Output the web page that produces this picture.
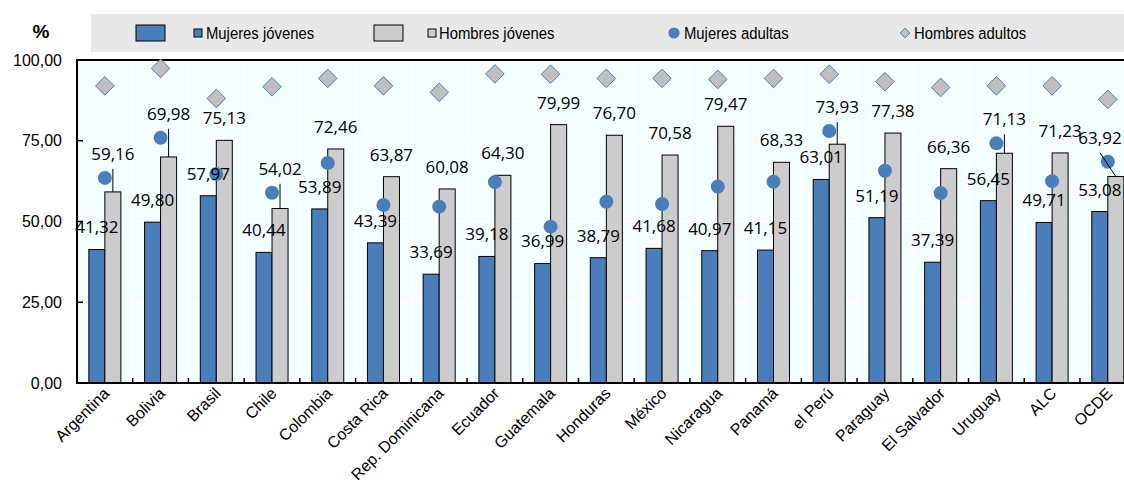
<!DOCTYPE html>
<html>
<head>
<meta charset="utf-8">
<script src="https://cdn.jsdelivr.net/npm/d3@7"></script>
<style>
	body { margin: 0; background: #fff; }
	svg { display: block; }
	.axis-text { font-family: "Liberation Sans", Arial, sans-serif; font-size: 16px; fill: #000; }
	.x-text { font-family: "Liberation Sans", Arial, sans-serif; font-size: 16px; fill: #000; }
	.legend-text { font-family: "Liberation Sans", Arial, sans-serif; font-size: 16.5px; fill: #000; }
	.value-label { font-family: "Open Sans", "Noto Sans", sans-serif; font-size: 17px; fill: #000; }
</style>
</head>
<body>
<div id="chart"></div>
<script>
// ---------- DATA ----------
const categories = [
	"Argentina", "Bolivia", "Brasil", "Chile", "Colombia", "Costa Rica",
	"Rep. Dominicana", "Ecuador", "Guatemala", "Honduras", "México",
	"Nicaragua", "Panamá", "el Perú", "Paraguay", "El Salvador", "Uruguay",
	"ALC", "OCDE",
];
const mujeresJovenes = [
	41.32, 49.8, 57.97, 40.44, 53.89, 43.39, 33.69, 39.18, 36.99, 38.79,
	41.68, 40.97, 41.15, 63.01, 51.19, 37.39, 56.45, 49.71, 53.08,
];
const hombresJovenes = [
	59.16, 69.98, 75.13, 54.02, 72.46, 63.87, 60.08, 64.3, 79.99, 76.7,
	70.58, 79.47, 68.33, 73.93, 77.38, 66.36, 71.13, 71.23, 63.92,
];
const mujeresAdultas = [
	63.5, 75.9, 64.7, 58.9, 68.1, 55.1, 54.6, 62.2, 48.4, 56.1,
	55.4, 60.8, 62.3, 78.0, 65.7, 58.8, 74.2, 62.5, 68.5,
];
const hombresAdultos = [
	92.0, 97.4, 88.1, 91.7, 94.3, 92.0, 90.0, 95.7, 95.6, 94.3,
	94.3, 94.0, 94.3, 95.6, 93.3, 91.5, 92.0, 92.0, 87.8,
];
const yTicks = [0, 25, 50, 75, 100];
const seriesNames = ["Mujeres jóvenes", "Hombres jóvenes", "Mujeres adultas", "Hombres adultos"];

const colorDef = {
	blue: "#4a7ebb",
	gray: "#cccccc",
	diamond: "#bfbfbf",
	plotBg: "#f3ffff",
	legendBg: "#e8e8e8",
};

const size = { w: 1124, h: 489 };
const margin = { top: 60, left: 77, bottom: 106 };
const plotW = 19 * 55.72;

const rows = categories.map((c, i) => ({
	cat: c,
	mj: mujeresJovenes[i],
	hj: hombresJovenes[i],
	ma: mujeresAdultas[i],
	ha: hombresAdultos[i],
}));

const fmt = d3.formatLocale({ decimal: ",", thousands: ".", grouping: [3], currency: ["", ""] }).format(".2f");

const svg = d3
	.select("#chart")
	.append("svg")
	.attr("width", size.w)
	.attr("height", size.h);

const xScale = d3
	.scaleBand()
	.domain(categories)
	.range([margin.left, margin.left + plotW]);
const x1 = d3
	.scaleBand()
	.domain(["mj", "hj"])
	.range([0, xScale.bandwidth()])
	.paddingOuter(0.74);
const yScale = d3
	.scaleLinear()
	.domain([0, 100])
	.range([size.h - margin.bottom, margin.top]);

// ---------- LEGEND ----------
const legend = svg.append("g").classed("legend", true);
legend
	.append("rect")
	.attr("x", 91)
	.attr("y", 14)
	.attr("width", size.w - 91)
	.attr("height", 38)
	.attr("fill", colorDef.legendBg);

const legY = 33;
function legendText(x, t) {
	legend.append("text")
		.classed("legend-text", true)
		.attr("transform", `translate(${x}, ${legY}) scale(0.9, 1)`)
		.attr("dy", "0.35em")
		.text(t);
}
[[136, colorDef.blue, 194, 206, seriesNames[0]], [374, colorDef.gray, 428, 439, seriesNames[1]]].forEach((d) => {
	legend.append("rect")
		.attr("x", d[0]).attr("y", legY - 8).attr("width", 29).attr("height", 16)
		.attr("fill", d[1]).attr("stroke", "#000").attr("stroke-width", 1);
	legend.append("rect")
		.attr("x", d[2]).attr("y", legY - 4).attr("width", 8).attr("height", 8)
		.attr("fill", d[1]).attr("stroke", "#000").attr("stroke-width", 1);
	legendText(d[3], d[4]);
});
legend.append("circle")
	.attr("cx", 674).attr("cy", legY).attr("r", 5.6)
	.attr("fill", colorDef.blue);
legendText(684, seriesNames[2]);
legend.append("path")
	.attr("d", d3.symbol().type(d3.symbolDiamond2).size(60))
	.attr("transform", `translate(905, ${legY})`)
	.attr("fill", colorDef.diamond)
	.attr("stroke", colorDef.blue)
	.attr("stroke-width", 1);
legendText(914, seriesNames[3]);

// ---------- PLOT AREA ----------
const plot = svg.append("g").classed("plot", true);
plot
	.append("rect")
	.attr("x", margin.left)
	.attr("y", margin.top)
	.attr("width", plotW)
	.attr("height", yScale(0) - yScale(100))
	.attr("fill", colorDef.plotBg);

// gridlines
plot
	.append("g")
	.selectAll("line")
	.data(yTicks.slice(1, -1))
	.join("line")
	.attr("x1", margin.left)
	.attr("x2", margin.left + plotW)
	.attr("y1", (d) => yScale(d))
	.attr("y2", (d) => yScale(d))
	.attr("stroke", "#fff")
	.attr("stroke-width", 1.5);
plot
	.append("g")
	.selectAll("line")
	.data(categories.slice(1))
	.join("line")
	.attr("x1", (d) => xScale(d))
	.attr("x2", (d) => xScale(d))
	.attr("y1", yScale(100))
	.attr("y2", yScale(0))
	.attr("stroke", "#fff")
	.attr("stroke-width", 1.5);

// bars
const barG = plot.append("g").classed("bars", true);
barG
	.selectAll("rect.mj")
	.data(rows)
	.join("rect")
	.classed("mj", true)
	.attr("x", (d) => xScale(d.cat) + x1("mj"))
	.attr("y", (d) => yScale(d.mj))
	.attr("width", x1.bandwidth())
	.attr("height", (d) => yScale(0) - yScale(d.mj))
	.attr("fill", colorDef.blue)
	.attr("stroke", "#000")
	.attr("stroke-width", 1);
barG
	.selectAll("rect.hj")
	.data(rows)
	.join("rect")
	.classed("hj", true)
	.attr("x", (d) => xScale(d.cat) + x1("hj"))
	.attr("y", (d) => yScale(d.hj))
	.attr("width", x1.bandwidth())
	.attr("height", (d) => yScale(0) - yScale(d.hj))
	.attr("fill", colorDef.gray)
	.attr("stroke", "#000")
	.attr("stroke-width", 1);

// axes lines
const axisG = plot.append("g").classed("axes", true);
axisG.append("line")
	.attr("x1", margin.left).attr("x2", margin.left + plotW)
	.attr("y1", yScale(100)).attr("y2", yScale(100))
	.attr("stroke", "#000").attr("stroke-width", 2);
axisG.append("line")
	.attr("x1", margin.left).attr("x2", margin.left + plotW)
	.attr("y1", yScale(0)).attr("y2", yScale(0))
	.attr("stroke", "#000").attr("stroke-width", 2);
axisG.append("line")
	.attr("x1", margin.left).attr("x2", margin.left)
	.attr("y1", yScale(100) - 1).attr("y2", yScale(0) + 1)
	.attr("stroke", "#000").attr("stroke-width", 2);

// y ticks + labels
axisG.append("g")
	.selectAll("line")
	.data(yTicks)
	.join("line")
	.attr("x1", margin.left)
	.attr("x2", margin.left + 6)
	.attr("y1", (d) => yScale(d))
	.attr("y2", (d) => yScale(d))
	.attr("stroke", "#000")
	.attr("stroke-width", 1.5);
axisG.append("g")
	.selectAll("text")
	.data(yTicks)
	.join("text")
	.classed("axis-text", true)
	.attr("x", 62)
	.attr("y", (d) => yScale(d))
	.attr("dy", "0.35em")
	.attr("text-anchor", "end")
	.text((d) => fmt(d));
svg.append("text")
	.attr("x", 41)
	.attr("y", 31)
	.attr("dy", "0.35em")
	.attr("text-anchor", "middle")
	.style("font-family", "Liberation Sans, Arial, sans-serif")
	.style("font-size", "19px")
	.style("font-weight", "bold")
	.text("%");

// x ticks + labels
axisG.append("g")
	.selectAll("line")
	.data(categories.slice(1))
	.join("line")
	.attr("x1", (d) => xScale(d))
	.attr("x2", (d) => xScale(d))
	.attr("y1", yScale(0))
	.attr("y2", yScale(0) - 5)
	.attr("stroke", "#000")
	.attr("stroke-width", 1.5);
axisG.append("g")
	.selectAll("text")
	.data(categories)
	.join("text")
	.classed("x-text", true)
	.attr("text-anchor", "end")
	.attr("transform", (d) => `translate(${xScale(d) + xScale.bandwidth() / 2 + 2}, ${yScale(0) + 8}) rotate(-45)`)
	.attr("dy", "0.3em")
	.text((d) => d);

// markers
const markG = plot.append("g").classed("markers", true);
markG
	.selectAll("path")
	.data(rows)
	.join("path")
	.attr("d", d3.symbol().type(d3.symbolDiamond2).size(220))
	.attr("transform", (d) => `translate(${xScale(d.cat) + xScale.bandwidth() / 2}, ${yScale(d.ha)})`)
	.attr("fill", colorDef.diamond)
	.attr("stroke", colorDef.blue)
	.attr("stroke-width", 1);
markG
	.selectAll("circle")
	.data(rows)
	.join("circle")
	.attr("cx", (d) => xScale(d.cat) + xScale.bandwidth() / 2)
	.attr("cy", (d) => yScale(d.ma))
	.attr("r", 7)
	.attr("fill", colorDef.blue);

// value labels
const labelG = plot.append("g").classed("labels", true);
labelG
	.selectAll("text.mj")
	.data(rows)
	.join("text")
	.classed("value-label", true)
	.attr("x", (d) => xScale(d.cat) + x1("mj") + x1.bandwidth() / 2)
	.attr("y", (d) => yScale(d.mj) - 22)
	.attr("dy", "0.35em")
	.attr("text-anchor", "middle")
	.text((d) => fmt(d.mj));

// grey labels move above the dot when they would collide, with a leader line
rows.forEach((d) => {
	const top = yScale(d.hj);
	const bx = xScale(d.cat) + x1("hj") + x1.bandwidth() / 2;
	d.hjBarX = bx;
	d.hjLabelX = Math.min(bx, size.w - 24);
	d.hjLabelY = Math.min(top - 22, yScale(d.ma) - 24);
	d.hjLeader = d.hjLabelY < top - 24;
});
labelG
	.selectAll("line")
	.data(rows.filter((d) => d.hjLeader))
	.join("line")
	.attr("x1", (d) => d.hjLabelX)
	.attr("x2", (d) => d.hjBarX)
	.attr("y1", (d) => d.hjLabelY + 15)
	.attr("y2", (d) => yScale(d.hj))
	.attr("stroke", "#000")
	.attr("stroke-width", 1);
labelG
	.selectAll("text.hj")
	.data(rows)
	.join("text")
	.classed("value-label hj", true)
	.attr("x", (d) => d.hjLabelX)
	.attr("y", (d) => d.hjLabelY)
	.attr("dy", "0.35em")
	.attr("text-anchor", "middle")
	.text((d) => fmt(d.hj));
</script>
</body>
</html>
